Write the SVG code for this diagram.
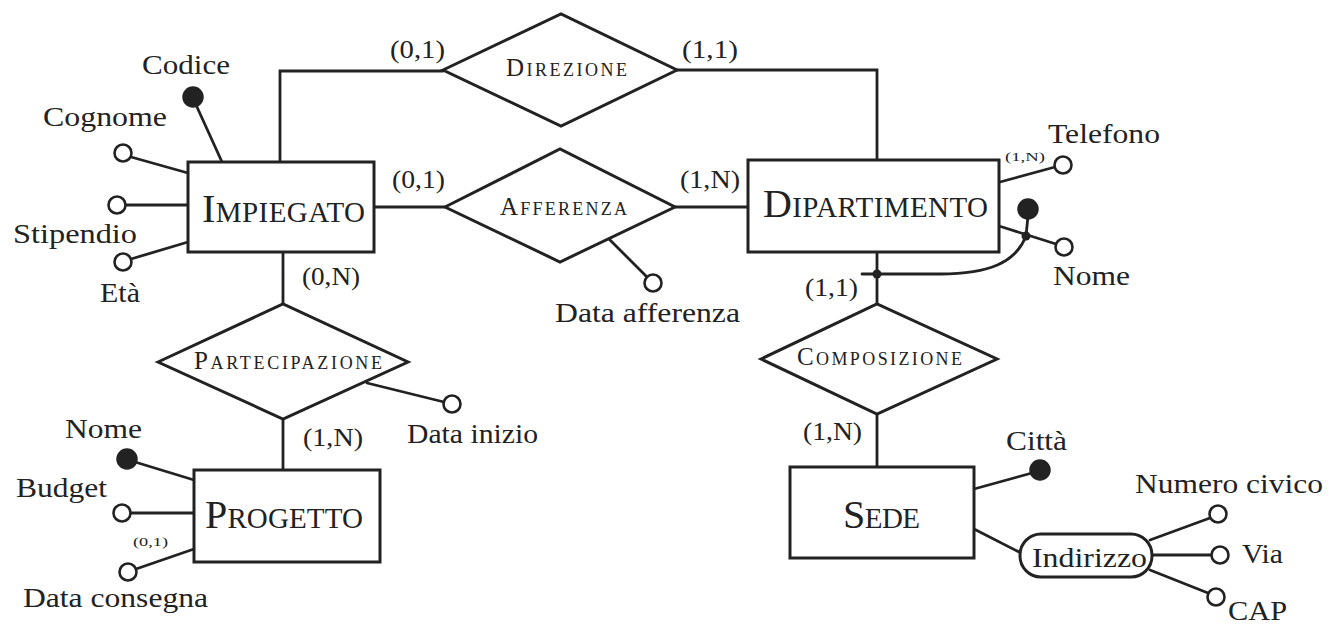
<svg xmlns="http://www.w3.org/2000/svg" width="1331" height="624" viewBox="0 0 1331 624">
<style>
  .ln{fill:none;stroke:#222;stroke-width:2.8;stroke-linecap:round;stroke-linejoin:miter}
  .box{fill:#fff;stroke:#222;stroke-width:3}
  .att{fill:#fff;stroke:#222;stroke-width:2.6}
  .key{fill:#222;stroke:#222;stroke-width:1.5}
  .dot{fill:#222}
  text{font-family:"Liberation Serif","Times New Roman",serif;fill:#222}
  .lab{font-size:27px}
  .card{font-size:26px}
  .sm{font-size:13px}
  .ent{font-size:29px}
  .ent .b{font-size:40px}
  .rel{font-size:18px}
  .rel .b{font-size:25px}
</style>
<rect width="1331" height="624" fill="#fff"/>
<g id="connectors">
  <polyline class="ln" points="280,162 280,71 443,71"/>
  <polyline class="ln" points="677,70 877,70 877,160"/>
  <line class="ln" x1="374" y1="207" x2="445" y2="207"/>
  <line class="ln" x1="675" y1="207" x2="748" y2="207"/>
  <line class="ln" x1="283" y1="252" x2="283" y2="304"/>
  <line class="ln" x1="283" y1="419" x2="283" y2="470"/>
  <line class="ln" x1="877" y1="252" x2="877" y2="304"/>
  <line class="ln" x1="877" y1="414" x2="877" y2="467"/>
  <!-- Impiegato attributes -->
  <line class="ln" x1="197" y1="107" x2="222" y2="162"/>
  <line class="ln" x1="131" y1="157" x2="188" y2="173"/>
  <line class="ln" x1="126" y1="205" x2="188" y2="205"/>
  <line class="ln" x1="131" y1="259" x2="188" y2="242"/>
  <!-- relationship attributes -->
  <line class="ln" x1="609" y1="239" x2="647" y2="277"/>
  <line class="ln" x1="367" y1="383" x2="444" y2="402"/>
  <!-- Progetto attributes -->
  <line class="ln" x1="135" y1="462" x2="194" y2="480"/>
  <line class="ln" x1="131" y1="513" x2="194" y2="513"/>
  <line class="ln" x1="136" y1="569" x2="194" y2="549"/>
  <!-- Dipartimento attributes -->
  <line class="ln" x1="1000" y1="182" x2="1055" y2="167"/>
  <line class="ln" x1="999" y1="226" x2="1056" y2="244"/>
  <line class="ln" x1="1026" y1="236" x2="1028" y2="216"/>
  <path class="ln" d="M862 274 L940 274 C990 274 1016 262 1026 236"/>
  <circle class="dot" cx="1026" cy="236" r="4.5"/>
  <circle class="dot" cx="877" cy="274" r="4.5"/>
  <!-- Sede attributes -->
  <line class="ln" x1="974" y1="489" x2="1032" y2="473"/>
  <line class="ln" x1="974" y1="529" x2="1021" y2="553"/>
  <line class="ln" x1="1150" y1="540" x2="1210" y2="518"/>
  <line class="ln" x1="1153" y1="555" x2="1211" y2="555"/>
  <line class="ln" x1="1150" y1="570" x2="1208" y2="593"/>
</g>
<g id="impiegato">
  <rect class="box" x="188" y="162" width="186" height="90"/>
  <text class="ent" x="202" y="222" textLength="163" lengthAdjust="spacing"><tspan class="b">I</tspan>MPIEGATO</text>
</g>
<g id="dipartimento">
  <rect class="box" x="748" y="160" width="251" height="92"/>
  <text class="ent" x="763" y="217" textLength="225" lengthAdjust="spacing"><tspan class="b">D</tspan>IPARTIMENTO</text>
</g>
<g id="progetto">
  <rect class="box" x="194" y="470" width="186" height="92"/>
  <text class="ent" x="205" y="528" textLength="158" lengthAdjust="spacing"><tspan class="b">P</tspan>ROGETTO</text>
</g>
<g id="sede">
  <rect class="box" x="790" y="467" width="184" height="91"/>
  <text class="ent" x="843" y="528" textLength="77" lengthAdjust="spacing"><tspan class="b">S</tspan>EDE</text>
</g>
<g id="direzione">
  <polygon class="box" points="443,70 561,14 677,70 561,126"/>
  <text class="rel" x="506" y="76" textLength="121" lengthAdjust="spacing"><tspan class="b">D</tspan>IREZIONE</text>
</g>
<g id="afferenza">
  <polygon class="box" points="445,207 560,149 675,207 560,262"/>
  <text class="rel" x="500" y="215" textLength="127" lengthAdjust="spacing"><tspan class="b">A</tspan>FFERENZA</text>
</g>
<g id="partecipazione">
  <polygon class="box" points="158,362 283,304 408,362 283,419"/>
  <text class="rel" x="194" y="369" textLength="188" lengthAdjust="spacing"><tspan class="b">P</tspan>ARTECIPAZIONE</text>
</g>
<g id="composizione">
  <polygon class="box" points="761,359 877,304 997,359 877,414"/>
  <text class="rel" x="797" y="365" textLength="165" lengthAdjust="spacing"><tspan class="b">C</tspan>OMPOSIZIONE</text>
</g>
<g id="indirizzo">
  <rect class="box" x="1020" y="534" width="132" height="43" rx="21" ry="21"/>
  <text class="lab" x="1032" y="567" textLength="115" lengthAdjust="spacingAndGlyphs">Indirizzo</text>
</g>
<g id="attr-codice"><circle class="key" cx="193" cy="97" r="10"/><text class="lab" x="142" y="74" textLength="88" lengthAdjust="spacingAndGlyphs">Codice</text></g>
<g id="attr-cognome"><circle class="att" cx="123" cy="153" r="8.5"/><text class="lab" x="43" y="126" textLength="124" lengthAdjust="spacingAndGlyphs">Cognome</text></g>
<g id="attr-stipendio"><circle class="att" cx="117" cy="205" r="8.5"/><text class="lab" x="13" y="243" textLength="124" lengthAdjust="spacingAndGlyphs">Stipendio</text></g>
<g id="attr-eta"><circle class="att" cx="123" cy="262" r="8.5"/><text class="lab" x="100" y="302" textLength="40" lengthAdjust="spacingAndGlyphs">Età</text></g>
<g id="attr-data-afferenza"><circle class="att" cx="653" cy="283" r="8.5"/><text class="lab" x="555" y="322" textLength="185" lengthAdjust="spacingAndGlyphs">Data afferenza</text></g>
<g id="attr-data-inizio"><circle class="att" cx="452" cy="404" r="8.5"/><text class="lab" x="407" y="443" textLength="131" lengthAdjust="spacingAndGlyphs">Data inizio</text></g>
<g id="attr-nome-progetto"><circle class="key" cx="127" cy="459" r="10"/><text class="lab" x="65" y="438" textLength="77" lengthAdjust="spacingAndGlyphs">Nome</text></g>
<g id="attr-budget"><circle class="att" cx="122" cy="513" r="8.5"/><text class="lab" x="16" y="497" textLength="91" lengthAdjust="spacingAndGlyphs">Budget</text></g>
<g id="attr-data-consegna"><circle class="att" cx="128" cy="572" r="8.5"/><text class="lab" x="23" y="607" textLength="185" lengthAdjust="spacingAndGlyphs">Data consegna</text></g>
<g id="attr-telefono"><circle class="att" cx="1063" cy="165" r="8.5"/><text class="lab" x="1048" y="143" textLength="112" lengthAdjust="spacingAndGlyphs">Telefono</text></g>
<g id="attr-nome-dip"><circle class="key" cx="1028" cy="209" r="10"/><circle class="att" cx="1064" cy="247" r="8.5"/><text class="lab" x="1053" y="285" textLength="77" lengthAdjust="spacingAndGlyphs">Nome</text></g>
<g id="attr-citta"><circle class="key" cx="1040" cy="470" r="10"/><text class="lab" x="1006" y="450" textLength="61" lengthAdjust="spacingAndGlyphs">Città</text></g>
<g id="attr-numero-civico"><circle class="att" cx="1218" cy="514" r="8.5"/><text class="lab" x="1135" y="493" textLength="188" lengthAdjust="spacingAndGlyphs">Numero civico</text></g>
<g id="attr-via"><circle class="att" cx="1220" cy="555" r="8.5"/><text class="lab" x="1242" y="563" textLength="41" lengthAdjust="spacingAndGlyphs">Via</text></g>
<g id="attr-cap"><circle class="att" cx="1216" cy="597" r="8.5"/><text class="lab" x="1228" y="620" textLength="59" lengthAdjust="spacingAndGlyphs">CAP</text></g>
<g id="cardinalities">
  <text class="card" x="390" y="58" textLength="55" lengthAdjust="spacingAndGlyphs">(0,1)</text>
  <text class="card" x="682" y="58" textLength="56" lengthAdjust="spacingAndGlyphs">(1,1)</text>
  <text class="card" x="392" y="188" textLength="53" lengthAdjust="spacingAndGlyphs">(0,1)</text>
  <text class="card" x="680" y="188" textLength="60" lengthAdjust="spacingAndGlyphs">(1,N)</text>
  <text class="card" x="302" y="285" textLength="58" lengthAdjust="spacingAndGlyphs">(0,N)</text>
  <text class="card" x="303" y="446" textLength="60" lengthAdjust="spacingAndGlyphs">(1,N)</text>
  <text class="card" x="805" y="296" textLength="53" lengthAdjust="spacingAndGlyphs">(1,1)</text>
  <text class="card" x="803" y="440" textLength="59" lengthAdjust="spacingAndGlyphs">(1,N)</text>
  <text class="sm" x="1005" y="161" textLength="40" lengthAdjust="spacingAndGlyphs">(1,N)</text>
  <text class="sm" x="133" y="546" textLength="35" lengthAdjust="spacingAndGlyphs">(0,1)</text>
</g>
</svg>
